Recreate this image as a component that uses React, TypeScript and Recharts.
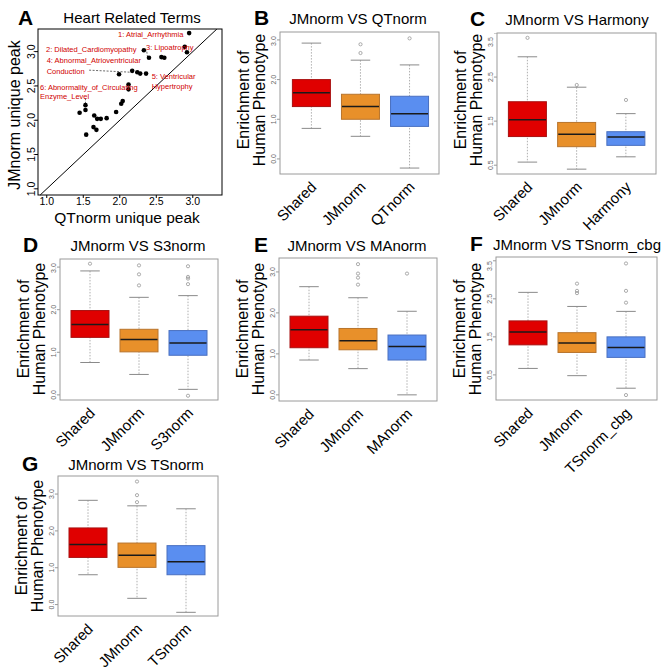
import React from "react";
import {
  ComposedChart,
  ScatterChart,
  Scatter,
  Bar,
  XAxis,
  YAxis,
  ReferenceLine,
} from "recharts";

/* ------------------------------------------------------------------ */
/*  Data                                                               */
/* ------------------------------------------------------------------ */

// Panel A: heart related terms, unique peaks
const aQtPeak = [
  2.95, 2.33, 2.4, 2.89, 2.92, 2.57, 2.61, 1.99, 2.17, 2.24, 2.28, 2.36, 2.12,
  2.12, 2.04, 2.02, 1.53, 1.53, 1.45, 1.65, 1.69, 1.74, 1.82, 1.95, 1.64, 1.68,
  1.54,
];
const aJmPeak = [
  3.27, 3.02, 2.91, 3.07, 2.99, 2.92, 2.91, 2.67, 2.72, 2.7, 2.68, 2.68, 2.52,
  2.45, 2.28, 2.24, 2.22, 2.15, 2.11, 2.07, 2.02, 2.02, 2.03, 2.12, 1.9, 1.86,
  1.79,
];
const aTicks = [1, 1.5, 2, 2.5, 3];

// Box stats: [lower whisker, Q1, median, Q3, upper whisker]
const bCats = ["Shared", "JMnorm", "QTnorm"];
const bStats = [
  [0.77, 1.32, 1.67, 2.0, 2.92],
  [0.57, 1.0, 1.32, 1.63, 2.49],
  [-0.23, 0.82, 1.14, 1.58, 2.37],
];
const bOutliers = [[], [2.67, 2.89], [3.04]];

const cCats = ["Shared", "JMnorm", "Harmony"];
const cStats = [
  [0.57, 1.15, 1.53, 1.94, 2.96],
  [0.41, 0.92, 1.2, 1.47, 2.27],
  [0.69, 0.95, 1.14, 1.26, 1.67],
];
const cOutliers = [[3.39], [2.32], [1.98]];

const dCats = ["Shared", "JMnorm", "S3norm"];
const dStats = [
  [0.76, 1.35, 1.65, 1.98, 2.91],
  [0.48, 1.01, 1.3, 1.54, 2.29],
  [0.13, 0.93, 1.22, 1.51, 2.33],
];
const dOutliers = [[3.08], [2.57, 2.83, 3.04], [-0.02, 2.6, 2.73, 2.77, 3.02]];

const eCats = ["Shared", "JMnorm", "MAnorm"];
const eStats = [
  [0.85, 1.15, 1.59, 1.92, 2.64],
  [0.64, 1.1, 1.32, 1.62, 2.37],
  [0.0, 0.85, 1.18, 1.46, 2.04],
];
const eOutliers = [[], [2.69, 2.86, 2.96, 3.19], [2.96]];

const fCats = ["Shared", "JMnorm", "TSnorm_cbg"];
const fStats = [
  [0.67, 1.29, 1.63, 1.92, 2.67],
  [0.48, 1.09, 1.34, 1.61, 2.3],
  [0.15, 0.96, 1.22, 1.5, 2.17],
];
const fOutliers = [[], [2.65, 2.71, 2.9], [-0.03, 2.4, 2.71, 3.43]];

const gCats = ["Shared", "JMnorm", "TSnorm"];
const gStats = [
  [0.81, 1.28, 1.63, 2.08, 2.83],
  [0.17, 1.01, 1.34, 1.67, 2.68],
  [-0.21, 0.81, 1.16, 1.6, 2.6],
];
const gOutliers = [[], [2.78, 2.97, 3.34], []];

const ticks0to3 = [0, 0.5, 1, 1.5, 2, 2.5, 3];
const ticks0to35 = [0, 0.5, 1, 1.5, 2, 2.5, 3, 3.5];
const ticks05to35 = [0.5, 1, 1.5, 2, 2.5, 3, 3.5];

/* ------------------------------------------------------------------ */
/*  Styles                                                             */
/* ------------------------------------------------------------------ */

const FONT = '"Liberation Sans", Arial, Helvetica, sans-serif';
const BOX_W = 39;
const FILLS = ["#E00000", "#E8902A", "#5A8EF0"];
const EDGES = ["#A81010", "#B8742C", "#4A70C0"];
const RED_TEXT = "#D00000";

/* ------------------------------------------------------------------ */
/*  Box plot shapes                                                    */
/* ------------------------------------------------------------------ */

function WhiskerShape(p: any) {
  const top = Math.min(p.y, p.y + p.height);
  const bot = Math.max(p.y, p.y + p.height);
  const cx = p.x + p.width / 2;
  const cap = p.width / 4;
  return (
    <g>
      <line x1={cx} x2={cx} y1={top} y2={bot} stroke="#9a9a9a" strokeWidth={0.8} strokeDasharray="1.5 1.5" />
      <line x1={cx - cap} x2={cx + cap} y1={top} y2={top} stroke="#8a8a8a" strokeWidth={1} />
      <line x1={cx - cap} x2={cx + cap} y1={bot} y2={bot} stroke="#8a8a8a" strokeWidth={1} />
    </g>
  );
}

function BoxShape(p: any) {
  const top = Math.min(p.y, p.y + p.height);
  const h = Math.abs(p.height);
  const i = p.payload.idx;
  return (
    <rect x={p.x + 0.5} y={top} width={p.width - 1} height={h} fill={FILLS[i]} stroke={EDGES[i]} strokeWidth={1} />
  );
}

function MedianShape(p: any) {
  if (p.cx == null || p.cy == null || isNaN(p.cy)) return <g />;
  return (
    <line x1={p.cx - BOX_W / 2 + 1} x2={p.cx + BOX_W / 2 - 1} y1={p.cy} y2={p.cy} stroke="#1a1a1a" strokeWidth={1.5} />
  );
}

function OutlierShape(p: any) {
  if (p.cx == null || p.cy == null || isNaN(p.cy)) return <g />;
  return <circle cx={p.cx} cy={p.cy} r={1.6} fill="none" stroke="#8a8a8a" strokeWidth={0.7} />;
}

function BoxYTick(p: any) {
  const { x, y, payload } = p;
  return (
    <text x={x} y={y} transform={`rotate(-90 ${x} ${y})`} textAnchor="middle" fontSize={7} fill="#666" fontFamily={FONT}>
      {Number(payload.value).toFixed(1)}
    </text>
  );
}

function BoxXTick(p: any) {
  const ax = p.x + 6;
  const ay = p.y + 14;
  return (
    <text x={ax} y={ay} transform={`rotate(-45 ${ax} ${ay})`} textAnchor="end" fontSize={15} fill="#000" fontFamily={FONT}>
      {p.payload.value}
    </text>
  );
}

/* ------------------------------------------------------------------ */
/*  Box panel                                                          */
/* ------------------------------------------------------------------ */

interface Geo {
  left: number;
  top: number;
  right: number;
  bottom: number;
  padL: number;
  padR: number;
}

function BoxPanel({
  cats,
  stats,
  outliers,
  ticks,
  domain,
  geo,
}: {
  cats: string[];
  stats: number[][];
  outliers: number[][];
  ticks: number[];
  domain: [number, number];
  geo: Geo;
}) {
  const rows = cats.map((c, i) => ({
    cat: c,
    idx: i,
    range: [stats[i][0], stats[i][4]],
    box: [stats[i][1], stats[i][3]],
    med: stats[i][2],
    out: outliers[i],
  }));
  const maxOut = Math.max(...outliers.map((o) => o.length));
  const yw = 16;
  const xh = 90;
  const w = geo.right - geo.left;
  const h = geo.bottom - geo.top;

  return (
    <div style={{ position: "absolute", left: geo.left - yw, top: geo.top }}>
      <ComposedChart
        width={w + yw}
        height={h + xh}
        data={rows}
        margin={{ top: 0, right: 0, bottom: 0, left: 0 }}
        barGap={-BOX_W}
        barCategoryGap={0}
      >
        <XAxis
          dataKey="cat"
          type="category"
          padding={{ left: geo.padL, right: geo.padR }}
          axisLine={false}
          tickLine={false}
          tickSize={0}
          tickMargin={0}
          height={xh}
          interval={0}
          tick={BoxXTick}
        />
        <YAxis
          type="number"
          domain={domain}
          ticks={ticks}
          allowDataOverflow
          width={yw}
          axisLine={false}
          tickSize={3}
          tickMargin={1}
          tickLine={{ stroke: "#999" }}
          tick={BoxYTick}
        />
        <Bar dataKey="range" barSize={BOX_W} shape={WhiskerShape} isAnimationActive={false} />
        <Bar dataKey="box" barSize={BOX_W} shape={BoxShape} isAnimationActive={false} />
        <Scatter dataKey="med" shape={MedianShape} isAnimationActive={false} />
        {Array.from({ length: maxOut }, (_, k) => (
          <Scatter
            key={k}
            dataKey={(d: any) => (d.out[k] === undefined ? null : d.out[k])}
            shape={OutlierShape}
            isAnimationActive={false}
          />
        ))}
      </ComposedChart>
    </div>
  );
}

/* ------------------------------------------------------------------ */
/*  Scatter panel A                                                    */
/* ------------------------------------------------------------------ */

function AYTick(p: any) {
  const { x, y, payload } = p;
  return (
    <text x={x} y={y} transform={`rotate(-90 ${x} ${y})`} textAnchor="middle" fontSize={10.5} fill="#000" fontFamily={FONT}>
      {Number(payload.value).toFixed(1)}
    </text>
  );
}

function Dot(p: any) {
  return <circle cx={p.cx} cy={p.cy} r={2.3} fill="#000" />;
}

const aGeo = { left: 38, top: 29, right: 222, bottom: 195 };

function ScatterPanel() {
  const points = aQtPeak.map((x, i) => ({ x, y: aJmPeak[i] }));
  const yw = 22;
  const xh = 30;
  const w = aGeo.right - aGeo.left;
  const h = aGeo.bottom - aGeo.top;
  return (
    <div style={{ position: "absolute", left: aGeo.left - yw, top: aGeo.top }}>
      <ScatterChart width={w + yw} height={h + xh} margin={{ top: 0, right: 0, bottom: 0, left: 0 }}>
        <XAxis
          type="number"
          dataKey="x"
          domain={[0.88, 3.4]}
          ticks={aTicks}
          allowDataOverflow
          height={xh}
          axisLine={false}
          tickSize={3}
          tickMargin={0}
          tickLine={{ stroke: "#000" }}
          tick={{ fontSize: 10.5, fill: "#000", fontFamily: FONT }}
          tickFormatter={(v: number) => v.toFixed(1)}
        />
        <YAxis
          type="number"
          dataKey="y"
          domain={[0.91, 3.33]}
          ticks={aTicks}
          allowDataOverflow
          width={yw}
          axisLine={false}
          tickSize={3}
          tickMargin={0}
          tickLine={{ stroke: "#000" }}
          tick={AYTick}
        />
        <ReferenceLine segment={[{ x: 0.91, y: 0.91 }, { x: 3.33, y: 3.33 }]} stroke="#000" strokeWidth={1} />
        <ReferenceLine segment={[{ x: 1.58, y: 2.73 }, { x: 2.15, y: 2.7 }]} stroke="#444" strokeWidth={0.8} strokeDasharray="2 1.5" />
        <ReferenceLine segment={[{ x: 2.37, y: 3.0 }, { x: 2.38, y: 2.92 }]} stroke="#444" strokeWidth={0.8} strokeDasharray="2 1.5" />
        <ReferenceLine segment={[{ x: 1.53, y: 2.32 }, { x: 1.53, y: 2.24 }]} stroke="#444" strokeWidth={0.8} strokeDasharray="2 1.5" />
        <Scatter data={points} shape={Dot} isAnimationActive={false} />
      </ScatterChart>
    </div>
  );
}

/* ------------------------------------------------------------------ */
/*  Layout                                                             */
/* ------------------------------------------------------------------ */

const panels = [
  { key: "B", title: "JMnorm VS QTnorm", cats: bCats, stats: bStats, outliers: bOutliers, ticks: ticks0to3, domain: [-0.38, 3.2] as [number, number], geo: { left: 280, top: 32, right: 439, bottom: 174, padL: 6.9, padR: 4.9 }, letterX: 254, titleX: 358, titleY: 24, labelY: 100 },
  { key: "C", title: "JMnorm VS Harmony", cats: cCats, stats: cStats, outliers: cOutliers, ticks: ticks05to35, domain: [0.3, 3.5] as [number, number], geo: { left: 497, top: 33, right: 656, bottom: 174, padL: 5.9, padR: 5.4 }, letterX: 470, titleX: 577, titleY: 25, labelY: 100 },
  { key: "D", title: "JMnorm VS S3norm", cats: dCats, stats: dStats, outliers: dOutliers, ticks: ticks0to3, domain: [-0.12, 3.19] as [number, number], geo: { left: 60, top: 259, right: 218, bottom: 400, padL: 5.5, padR: 5.5 }, letterX: 23, titleX: 138, titleY: 251, labelY: 329 },
  { key: "E", title: "JMnorm VS MAnorm", cats: eCats, stats: eStats, outliers: eOutliers, ticks: ticks0to3, domain: [-0.15, 3.34] as [number, number], geo: { left: 279, top: 258, right: 437, bottom: 401, padL: 5.5, padR: 5.5 }, letterX: 254, titleX: 357, titleY: 251, labelY: 329 },
  { key: "F", title: "JMnorm VS TSnorm_cbg", cats: fCats, stats: fStats, outliers: fOutliers, ticks: ticks0to35, domain: [-0.16, 3.6] as [number, number], geo: { left: 496, top: 257, right: 657, bottom: 400, padL: 7.5, padR: 6.5 }, letterX: 470, titleX: 577, titleY: 250, labelY: 329 },
  { key: "G", title: "JMnorm VS TSnorm", cats: gCats, stats: gStats, outliers: gOutliers, ticks: ticks0to3, domain: [-0.31, 3.49] as [number, number], geo: { left: 58, top: 476, right: 218, bottom: 616, padL: 5.5, padR: 7.5 }, letterX: 22, titleX: 136, titleY: 470, labelY: 546 },
];

const annotations = [
  { text: "1: Atrial_Arrhythmia", x: 118, y: 36.5 },
  { text: "2: Dilated_Cardiomyopathy", x: 46, y: 52.3 },
  { text: "3: Lipoatrophy", x: 146, y: 49.5 },
  { text: "4: Abnormal_Atrioventricular", x: 46.7, y: 63.3 },
  { text: "Conduction", x: 46.7, y: 73.7 },
  { text: "5: Ventricular", x: 151.7, y: 78.5 },
  { text: "Hypertrophy", x: 151.7, y: 88.5 },
  { text: "6: Abnormality_of_Circulating", x: 40, y: 90.3 },
  { text: "Enzyme_Level", x: 40, y: 99.3 },
];

export default function App() {
  return (
    <div
      style={{
        position: "absolute",
        left: 0,
        top: 0,
        width: 672,
        height: 672,
        background: "#fff",
        fontFamily: FONT,
        overflow: "hidden",
      }}
    >
      <ScatterPanel />
      {panels.map((p) => (
        <BoxPanel key={p.key} cats={p.cats} stats={p.stats} outliers={p.outliers} ticks={p.ticks} domain={p.domain} geo={p.geo} />
      ))}

      {/* ---- Overlay: frames, titles, letters, axis labels ---- */}
      <svg width={672} height={672} style={{ position: "absolute", left: 0, top: 0, pointerEvents: "none" }} fontFamily={FONT}>
        <rect x={aGeo.left} y={aGeo.top} width={aGeo.right - aGeo.left} height={aGeo.bottom - aGeo.top} fill="none" stroke="#000" strokeWidth={1} />
        <text x={18} y={25} fontSize={21} fontWeight="bold">A</text>
        <text x={132} y={23} fontSize={15} textAnchor="middle">Heart Related Terms</text>
        <text x={20} y={115} fontSize={16} textAnchor="middle" transform="rotate(-90 20 115)">JMnorm unique peak</text>
        <text x={127} y={223} fontSize={15.5} textAnchor="middle">QTnorm unique peak</text>
        {annotations.map((a) => (
          <text key={a.text} x={a.x} y={a.y} fontSize={7.5} fill={RED_TEXT}>
            {a.text}
          </text>
        ))}

        {panels.map((p) => {
          const g = p.geo;
          const b1 = g.left - 31;
          const b2 = g.left - 15;
          return (
            <g key={p.key}>
              <rect x={g.left} y={g.top} width={g.right - g.left} height={g.bottom - g.top} fill="none" stroke="#9a9a9a" strokeWidth={1} />
              <text x={p.letterX} y={p.titleY + 1} fontSize={21} fontWeight="bold">{p.key}</text>
              <text x={p.titleX} y={p.titleY} fontSize={15} textAnchor="middle">{p.title}</text>
              <text x={b1} y={p.labelY} fontSize={16} textAnchor="middle" transform={`rotate(-90 ${b1} ${p.labelY})`}>Enrichment of</text>
              <text x={b2} y={p.labelY} fontSize={16} textAnchor="middle" transform={`rotate(-90 ${b2} ${p.labelY})`}>Human Phenotype</text>
            </g>
          );
        })}
      </svg>
    </div>
  );
}
